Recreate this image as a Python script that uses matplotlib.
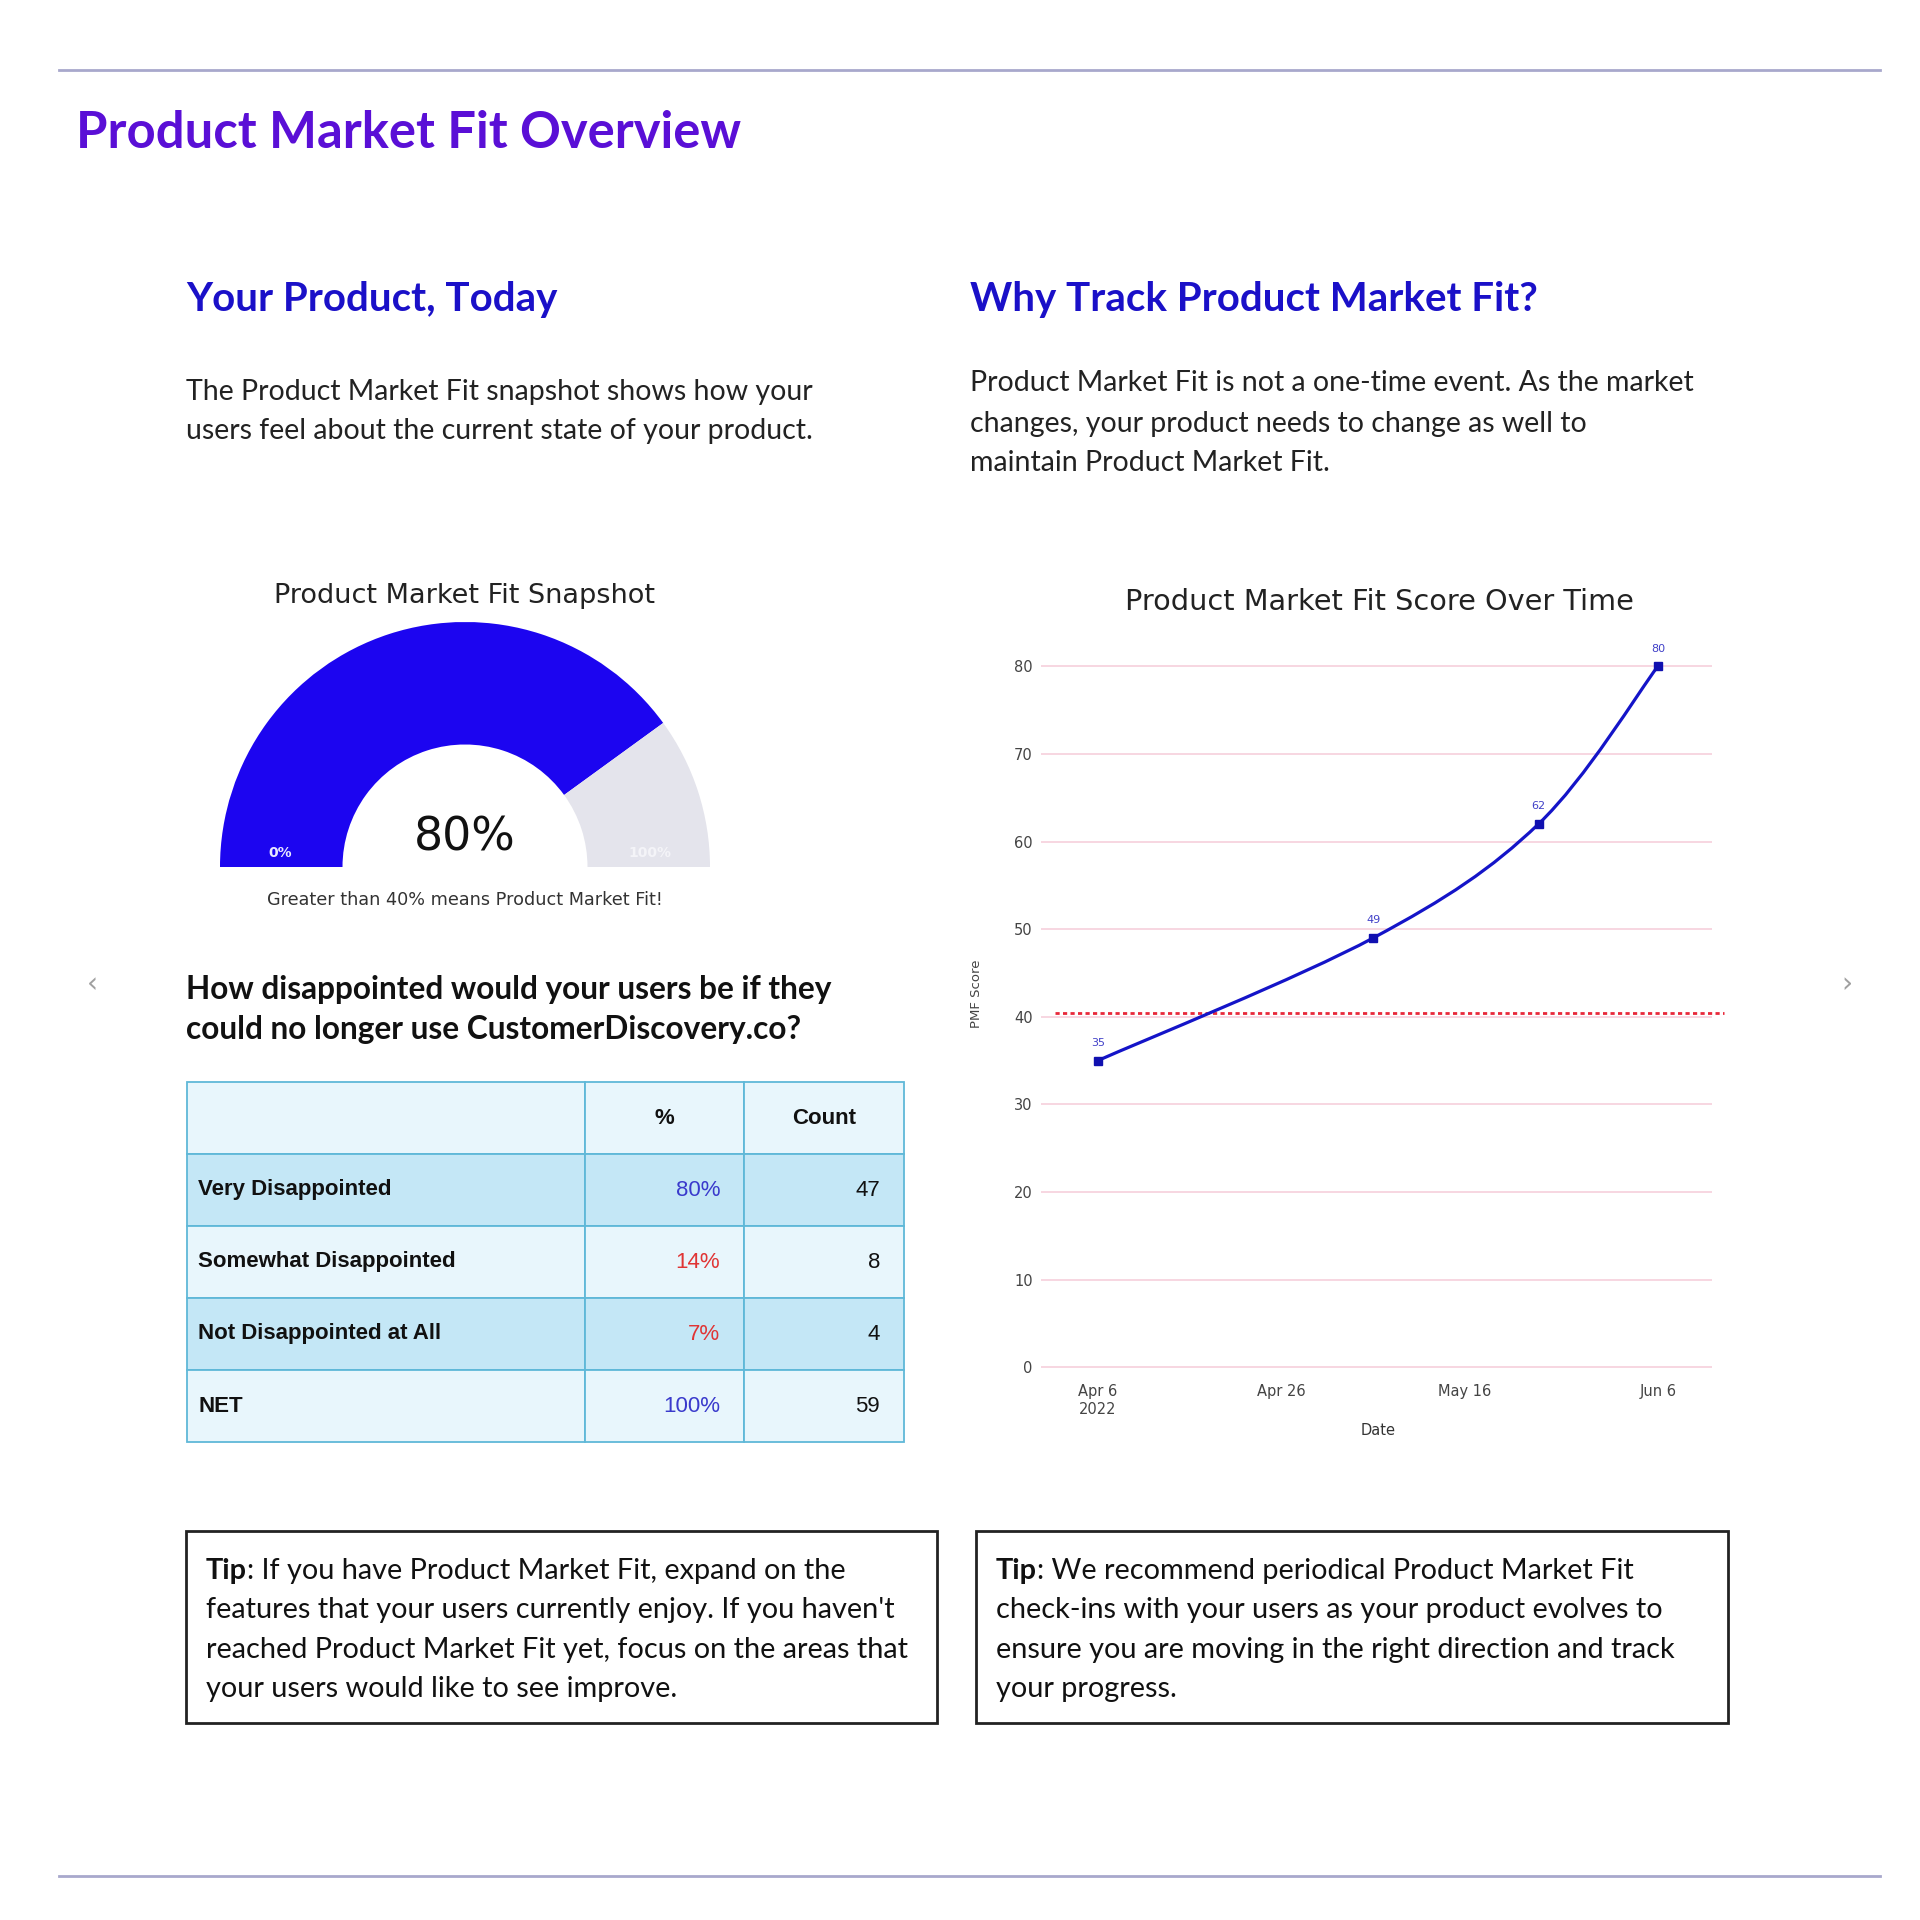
import numpy as np
import matplotlib
matplotlib.use("Agg")
import matplotlib.pyplot as plt
import matplotlib.dates as mdates
from matplotlib.patches import Wedge, Rectangle, PathPatch
from matplotlib.path import Path

# ---- data -------------------------------------------------------------
PMF_SCORE = 80                      # gauge value, percent
PMF_THRESHOLD = 40

TABLE_COLS = ["", "%", "Count"]
TABLE_ROWS = ["Very Disappointed", "Somewhat Disappointed",
              "Not Disappointed at All", "NET"]
TABLE_PCT = [80, 14, 7, 100]
TABLE_COUNT = [47, 8, 4, 59]

DATES = ["2022-04-06", "2022-05-06", "2022-05-24", "2022-06-06"]
SCORES = [35, 49, 62, 80]
TICK_DATES = ["2022-04-06", "2022-04-26", "2022-05-16", "2022-06-06"]
TICK_LABELS = ["Apr 6\n2022", "Apr 26", "May 16", "Jun 6"]
Y_TICKS = [0, 10, 20, 30, 40, 50, 60, 70, 80]

BLUE = "#1c05f0"
HEAD = "#1a10c8"
BODY = "Lato"
CHART = "DejaVu Sans"
W = H = 1920

fig = plt.figure(figsize=(19.2, 19.2), dpi=100)
fig.patch.set_facecolor("white")


def box(left, top, right, bottom):
    """pixel box (top-left origin) -> fig.add_axes rect"""
    return [left / W, 1 - bottom / H, (right - left) / W, (bottom - top) / H]


# page layer in pixel coordinates
bg = fig.add_axes([0, 0, 1, 1])
bg.set_xlim(0, W)
bg.set_ylim(H, 0)
bg.axis("off")

for y in (70, 1876):
    bg.plot([59, 1880], [y, y], color="#a8a8cc", lw=2)

bg.text(76, 134, "Product Market Fit Overview", family=BODY, weight="bold",
        size=36.5, color="#5a0fd6", va="center")

bg.text(186, 299, "Your Product, Today", family=BODY, weight="bold",
        size=29, color=HEAD, va="center")
bg.text(970, 299, "Why Track Product Market Fit?", family=BODY, weight="bold",
        size=29, color=HEAD, va="center")

for y, line in zip((392, 431), ["The Product Market Fit snapshot shows how your",
                                "users feel about the current state of your product."]):
    bg.text(186, y, line, family=BODY, size=20.5, color="#222", va="center")
for y, line in zip((383, 424, 463), ["Product Market Fit is not a one-time event. As the market",
                                     "changes, your product needs to change as well to",
                                     "maintain Product Market Fit."]):
    bg.text(970, y, line, family=BODY, size=20.5, color="#222", va="center")

bg.text(92, 984, "\u2039", family=CHART, size=20, color="#a0a0a0", ha="center", va="center")
bg.text(1847, 984, "\u203a", family=CHART, size=20, color="#a0a0a0", ha="center", va="center")

# ---- gauge ------------------------------------------------------------
bg.text(465, 596, "Product Market Fit Snapshot", family=CHART, size=19.5,
        color="#222", ha="center", va="center")
ga = fig.add_axes(box(210, 612, 720, 882))
ga.set_xlim(-255 / 245, 255 / 245)
ga.set_ylim(-15 / 245, 255 / 245)
ga.axis("off")
split = 180 - 180 * PMF_SCORE / 100
ga.add_patch(Wedge((0, 0), 1, split, 180, width=0.5, color=BLUE, lw=0))
ga.add_patch(Wedge((0, 0), 1, 0, split, width=0.5, color="#e4e4ec", lw=0))
ga.text(0, 0.12, f"{PMF_SCORE}%", family=CHART, size=33, color="#111",
        ha="center", va="center")
ga.text(-0.755, 0.057, "0%", family=CHART, size=10, weight="bold",
        color="#e8e8ff", ha="center", va="center")
ga.text(0.755, 0.057, "100%", family=CHART, size=10, weight="bold",
        color="#f4f4f8", ha="center", va="center")
bg.text(465, 900, f"Greater than {PMF_THRESHOLD}% means Product Market Fit!",
        family=CHART, size=12.7, color="#333", ha="center", va="center")

# ---- question + table -------------------------------------------------
for y, line in zip((989, 1029), ["How disappointed would your users be if they",
                                 "could no longer use CustomerDiscovery.co?"]):
    bg.text(186, y, line, family=BODY, weight="bold", size=22.8, color="#111", va="center")

ta = fig.add_axes(box(187, 1082, 904, 1442))
ta.axis("off")
cells = [[r, f"{p}%", str(c)] for r, p, c in zip(TABLE_ROWS, TABLE_PCT, TABLE_COUNT)]
tbl = ta.table(cellText=cells, colLabels=TABLE_COLS, bbox=[0, 0, 1, 1],
               colWidths=[398 / 717, 159 / 717, 160 / 717])
tbl.auto_set_font_size(False)
tbl.set_fontsize(16)
pct_colors = ["#3a3acc", "#e03535", "#e03535", "#3a3acc"]
for (r, c), cell in tbl.get_celld().items():
    cell.set_edgecolor("#5fb8d8")
    cell.set_linewidth(1.3)
    dark = r in (1, 3)
    cell.set_facecolor("#c4e7f6" if dark else "#e8f6fc")
    txt = cell.get_text()
    txt.set_family("Liberation Sans")
    txt.set_color("#111")
    if r == 0:
        cell._loc = "center"
        txt.set_ha("center")
        txt.set_weight("bold")
    elif c == 0:
        cell._loc = "left"
        cell.PAD = 0.028
        txt.set_ha("left")
        txt.set_weight("bold")
    else:
        cell._loc = "right"
        cell.PAD = 0.15
        txt.set_ha("right")
        if c == 1:
            txt.set_color(pct_colors[r - 1])

# ---- score over time --------------------------------------------------
bg.text(1379, 602, "Product Market Fit Score Over Time", family=CHART, size=20.7,
        color="#222", ha="center", va="center")
la = fig.add_axes(box(1041, 640, 1712, 1376))
x = mdates.datestr2num(DATES)
y = np.array(SCORES, dtype=float)
x0 = x[0]
la.set_xlim(x0 - 6.2, x0 + 66.9)
la.set_ylim(-1, 83)

# plotly-style spline: Catmull-Rom segments as cubic Bezier curves
pts = np.column_stack([x, y])
verts, codes = [pts[0]], [Path.MOVETO]
for i in range(len(pts) - 1):
    p_prev = pts[max(i - 1, 0)]
    p_next = pts[min(i + 2, len(pts) - 1)]
    c1 = pts[i] + (pts[i + 1] - p_prev) / 6
    c2 = pts[i + 1] - (p_next - pts[i]) / 6
    verts += [c1, c2, pts[i + 1]]
    codes += [Path.CURVE4] * 3
la.add_patch(PathPatch(Path(verts, codes), fill=False, edgecolor="#1414c8", lw=2.3, zorder=3))
la.plot(x, y, "s", color="#1010b0", ms=6, zorder=4)
for xi, yi in zip(x, SCORES):
    la.annotate(str(yi), (xi, yi), xytext=(0, 9), textcoords="offset points",
                ha="center", va="bottom", size=8, color="#4040c8", family=CHART)

la.axhline(PMF_THRESHOLD + 0.4, xmin=0.021, xmax=1.018, color="#e8283a", lw=2,
           ls=(0, (1.5, 1.2)), clip_on=False, zorder=2)
la.set_yticks(Y_TICKS)
la.set_xticks(mdates.datestr2num(TICK_DATES))
la.set_xticklabels(TICK_LABELS)
la.tick_params(length=0, labelsize=10.5, labelcolor="#444", pad=6)
for lab in la.get_xticklabels() + la.get_yticklabels():
    lab.set_family(CHART)
la.grid(axis="y", color="#f6cfdc", lw=1.2)
la.set_axisbelow(True)
for s in la.spines.values():
    s.set_visible(False)
la.set_ylabel("PMF Score", family=CHART, size=9.5, color="#444")
la.yaxis.set_label_coords(-0.086, 0.519)
la.set_xlabel("Date", family=CHART, size=10.5, color="#333")
la.xaxis.set_label_coords(0.502, -0.064)

# ---- tips ---------------------------------------------------------------
tips = [
    (186, 937, ["If you have Product Market Fit, expand on the",
                "features that your users currently enjoy. If you haven't",
                "reached Product Market Fit yet, focus on the areas that",
                "your users would like to see improve."]),
    (976, 1728, ["We recommend periodical Product Market Fit",
                 "check-ins with your users as your product evolves to",
                 "ensure you are moving in the right direction and track",
                 "your progress."]),
]
for left, right, lines in tips:
    bg.add_patch(Rectangle((left, 1531), right - left, 192, fill=False,
                           edgecolor="#222", lw=2))
    tx = left + 20
    t = bg.text(tx, 1571, "Tip", family=BODY, weight="bold", size=20.8,
                color="#111", va="center")
    bg.annotate(": " + lines[0], xy=(1, 0), xycoords=t, va="bottom",
                family=BODY, size=20.8, color="#111")
    for k, line in enumerate(lines[1:], start=1):
        bg.text(tx, 1571 + 39.3 * k, line, family=BODY, size=20.8, color="#111", va="center")

fig.savefig("out.png", dpi=100, facecolor="white")
